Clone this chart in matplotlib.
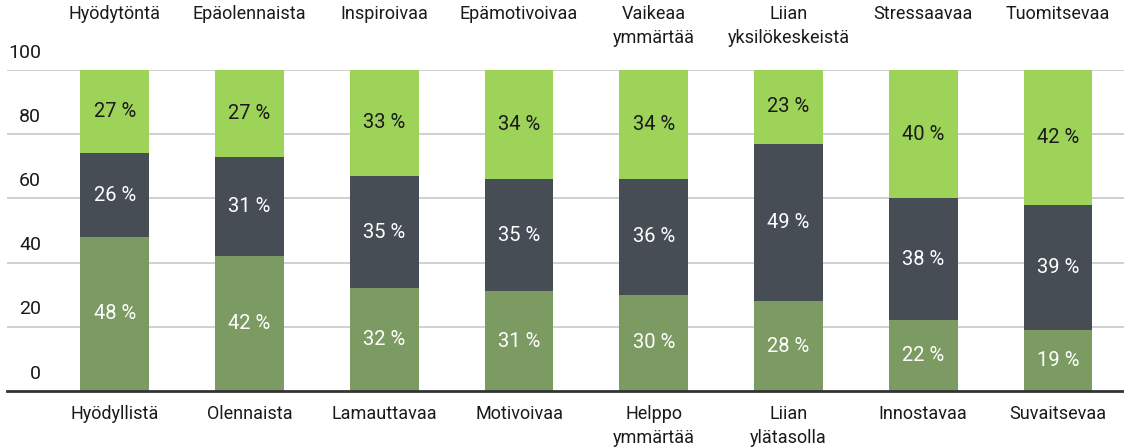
import matplotlib.pyplot as plt
import matplotlib.transforms as mtransforms

# Data
top_labels = ['Hyödytöntä', 'Epäolennaista', 'Inspiroivaa', 'Epämotivoivaa',
              'Vaikeaa\nymmärtää', 'Liian\nyksilökeskeistä', 'Stressaavaa', 'Tuomitsevaa']
bottom_labels = ['Hyödyllistä', 'Olennaista', 'Lamauttavaa', 'Motivoivaa',
                 'Helppo\nymmärtää', 'Liian\nylätasolla', 'Innostavaa', 'Suvaitsevaa']
positive = [48, 42, 32, 31, 30, 28, 22, 19]
neutral = [26, 31, 35, 35, 36, 49, 38, 39]
negative = [27, 27, 33, 34, 34, 23, 40, 42]
yticks = [0, 20, 40, 60, 80, 100]

C_POS = '#7b9b63'
C_MID = '#474d54'
C_NEG = '#9dd359'

plt.rcParams['font.family'] = ['Roboto', 'DejaVu Sans']

fig = plt.figure(figsize=(11.24, 4.47), dpi=100)
ax = fig.add_axes([7 / 1124, 56 / 447, 1117 / 1124, 321 / 447])

x = list(range(len(positive)))
w = 0.51
mid_bottom = positive
neg_bottom = [p + n for p, n in zip(positive, neutral)]

ax.bar(x, positive, width=w, color=C_POS, zorder=2)
ax.bar(x, neutral, width=w, bottom=mid_bottom, color=C_MID, zorder=2)
ax.bar(x, negative, width=w, bottom=neg_bottom, color=C_NEG, zorder=2)

for i in x:
    ax.text(i, positive[i] / 2, f'{positive[i]} %', ha='center', va='center',
            color='white', fontsize=14.5, zorder=3)
    ax.text(i, mid_bottom[i] + neutral[i] / 2, f'{neutral[i]} %', ha='center', va='center',
            color='white', fontsize=14.5, zorder=3)
    top_center = (neg_bottom[i] + min(100, neg_bottom[i] + negative[i])) / 2
    ax.text(i, top_center, f'{negative[i]} %', ha='center', va='center',
            color='#1a1a1a', fontsize=14.5, zorder=3)

ax.set_xlim(-0.80, 7.49)
ax.set_ylim(0, 100)

# gridlines and baseline
for v in yticks[1:]:
    ax.axhline(v, color='#c8c8c8', linewidth=1.2, zorder=1)
ax.axhline(0, color='#333333', linewidth=2, zorder=4, clip_on=False)

# y tick labels sitting above the gridlines
trans = mtransforms.blended_transform_factory(ax.transAxes, ax.transData)
for v in yticks:
    ax.annotate(str(v), xy=(0, v), xycoords=trans, xytext=(24.5, 12.5),
                textcoords='offset points', ha='right', va='center',
                fontsize=14, color='#1a1a1a')

# category labels top and bottom
xtrans = mtransforms.blended_transform_factory(ax.transData, fig.transFigure)
for i in x:
    ax.text(i, 1 - 5 / 447, top_labels[i], transform=xtrans, ha='center', va='top',
            fontsize=13, color='#1a1a1a', linespacing=1.4)
    ax.text(i, 1 - 405 / 447, bottom_labels[i], transform=xtrans, ha='center', va='top',
            fontsize=13, color='#1a1a1a', linespacing=1.4)

ax.set_xticks([])
ax.set_yticks([])
for s in ax.spines.values():
    s.set_visible(False)

fig.savefig('out.png', dpi=100)
